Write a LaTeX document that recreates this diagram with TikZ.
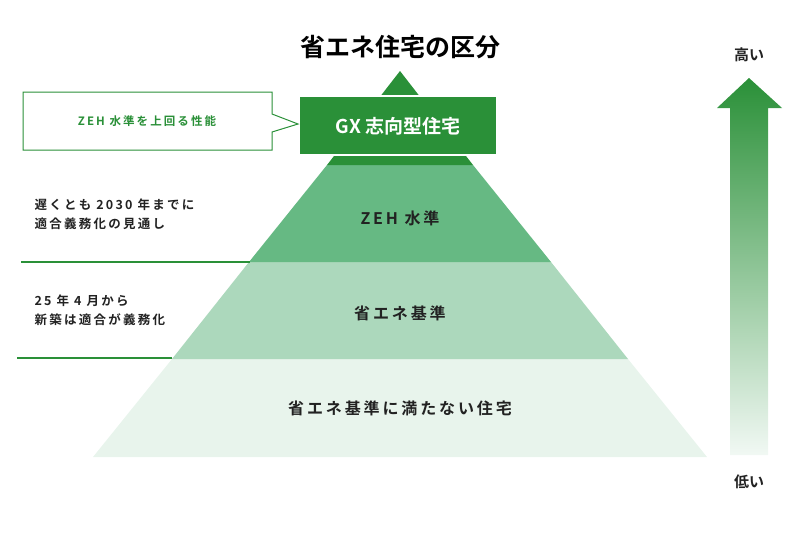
\documentclass[tikz,border=0pt]{standalone}
\usepackage{fontspec}
\setmainfont{Noto Sans CJK JP}
\newfontfamily\jpbold{Noto Sans CJK JP Bold}
\newfontfamily\jpwide[LetterSpace=18]{Noto Sans CJK JP Bold}
\definecolor{gxgreen}{RGB}{42,144,56}
\definecolor{zehgreen}{RGB}{102,185,131}
\definecolor{stdgreen}{RGB}{172,216,188}
\definecolor{lowgreen}{RGB}{232,244,236}
\definecolor{inkgray}{RGB}{34,34,34}
\tikzset{
  layerlabel/.style={text=inkgray,font=\jpwide\fontsize{16}{16}\selectfont},
  sidenote/.style={anchor=west,align=left,text=inkgray,font=\jpwide\fontsize{12.5}{19}\selectfont},
  rule/.style={draw=gxgreen,line width=1.5pt},
}
\begin{document}
\begin{tikzpicture}[x=1pt,y=-1pt]
\useasboundingbox (0,0) rectangle (800,533);
% title
\node (title) at (400,47) [text=black,font=\jpbold\fontsize{25}{25}\selectfont] {省エネ住宅の区分};
% pyramid layers
\fill[lowgreen] (93,457) -- (707,457) -- (628,359) -- (172,359) -- cycle;
\fill[stdgreen] (172,359) -- (628,359) -- (551,262) -- (249,262) -- cycle;
\fill[zehgreen] (249,262) -- (551,262) -- (473,165) -- (327,165) -- cycle;
\fill[gxgreen] (327,165) -- (473,165) -- (400,71) -- cycle;
% top box
\draw[gxgreen,fill=gxgreen,draw=white,line width=2.5pt] (299,96) rectangle (497,155);
\node (gx) at (398,126) [text=white,font=\jpbold\fontsize{19}{19}\selectfont] {GX 志向型住宅};
% callout
\draw[gxgreen,line width=1pt,fill=white] (23,92) -- (272,92) -- (272,114) -- (298,124) -- (272,132) -- (272,150) -- (23,150) -- cycle;
\node (beyond) at (147,121) [text=gxgreen,font=\jpwide\fontsize{11.5}{11.5}\selectfont] {ZEH 水準を上回る性能};
% layer labels
\node (zeh) at (400,218) [layerlabel] {ZEH 水準};
\node (std) at (400,313) [layerlabel] {省エネ基準};
\node (low) at (400,408) [layerlabel] {省エネ基準に満たない住宅};
% side notes
\node (note1) at (31,214) [sidenote] {遅くとも 2030 年までに\\適合義務化の見通し};
\node (note2) at (31,310) [sidenote] {25 年 4 月から\\新築は適合が義務化};
\draw[rule] (21,262) -- (250,262);
\draw[rule] (17,358) -- (172,358);
% level arrow
\shade[top color=gxgreen,bottom color=lowgreen!60!white]
  (730,455) -- (730,108) -- (717,108) -- (749,78) -- (782,108) -- (768,108) -- (768,455) -- cycle;
\node (high) at (749,55) [text=inkgray,font=\jpbold\fontsize{15}{15}\selectfont] {高い};
\node (lowlbl) at (749,482) [text=inkgray,font=\jpbold\fontsize{15}{15}\selectfont] {低い};
\end{tikzpicture}
\end{document}
